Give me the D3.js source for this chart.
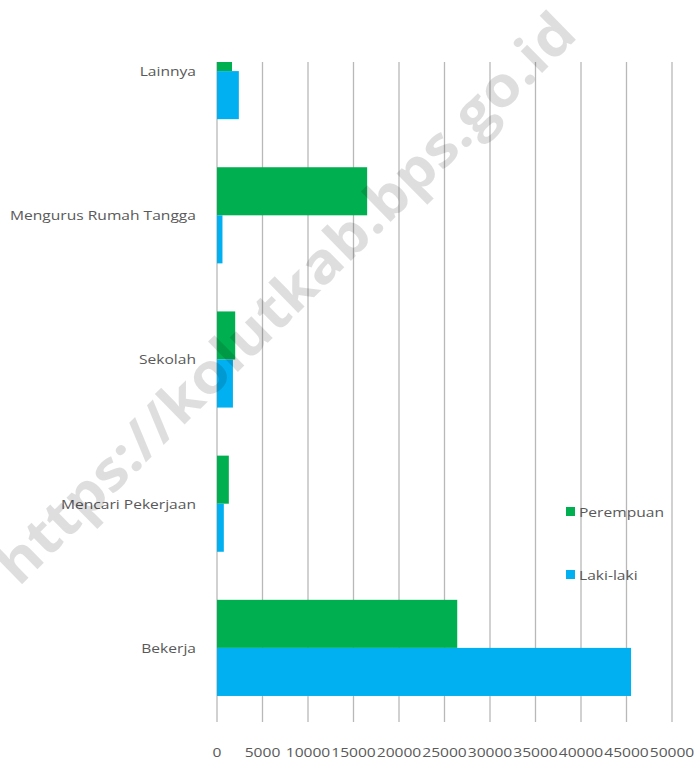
<html>
    <head>
        <style>
body {
    margin: 0;
    background: #fff;
}
.chart text {
    font-family: "Open Sans", sans-serif;
    font-size: 13px;
    fill: #595959;
}
.chart .grid line {
    stroke: #b8b8b8;
    stroke-width: 1.3;
}
.chart .watermark {
    font-family: "Open Sans", sans-serif;
    font-weight: bold;
    font-size: 56px;
    fill: #000;
    fill-opacity: 0.13;
}
        </style>
    </head>
    <body>
<script src="https://d3js.org/d3.v7.min.js"></script>
<script>

const
    width = 697,
    height = 762;

// status kegiatan, top to bottom as in the picture
const categories = ['Lainnya', 'Mengurus Rumah Tangga', 'Sekolah', 'Mencari Pekerjaan', 'Bekerja'];
const perempuan = [1650, 16500, 2000, 1300, 26400];
const lakilaki  = [2400, 600, 1750, 750, 45500];
const xTicks = [0, 5000, 10000, 15000, 20000, 25000, 30000, 35000, 40000, 45000, 50000];
const seriesNames = ['Perempuan', 'Laki-laki'];
const seriesColors = ['#00b050', '#00b0f0'];

// text in the picture is wider than Open Sans, stretch it a bit
const stretch = 1.2;

const
    plotLeft = 217, plotRight = 672,
    plotTop = 62, plotBottom = 722;

var svg = d3.select('body')
    .append('svg')
    .classed('chart', true)
    .attr('width', width)
    .attr('height', height);

const x = d3.scaleLinear()
    .domain([0, 50000])
    .range([plotLeft, plotRight]);

// the chart was cropped at the top, so the bands start above the plot
const y = d3.scaleBand()
    .domain(categories)
    .range([-1, 720])
    .paddingInner(1/3)
    .paddingOuter(1/6);

const sub = d3.scaleBand()
    .domain(seriesNames)
    .range([0, y.bandwidth()]);

svg.append('clipPath')
    .attr('id', 'plotclip')
  .append('rect')
    .attr('x', 0)
    .attr('y', plotTop)
    .attr('width', width)
    .attr('height', plotBottom - plotTop);

// gridlines
svg.append('g')
    .classed('grid', true)
    .selectAll('line')
    .data(xTicks)
  .enter().append('line')
    .attr('x1', d => x(d))
    .attr('x2', d => x(d))
    .attr('y1', plotTop)
    .attr('y2', plotBottom);

const rows = categories.map((c, i) => ({cat: c, values: [perempuan[i], lakilaki[i]]}));

svg.append('g')
    .attr('clip-path', 'url(#plotclip)')
    .selectAll('g')
    .data(rows)
  .enter().append('g')
    .attr('transform', d => 'translate(0,' + y(d.cat) + ')')
    .selectAll('rect')
    .data(d => d.values.map((v, j) => ({v: v, s: seriesNames[j], c: seriesColors[j]})))
  .enter().append('rect')
    .attr('x', x(0))
    .attr('y', d => sub(d.s))
    .attr('width', d => x(d.v) - x(0))
    .attr('height', sub.bandwidth())
    .attr('fill', d => d.c);

// category labels
svg.append('g')
    .selectAll('text')
    .data(categories)
  .enter().append('text')
    .attr('text-anchor', 'end')
    .attr('dominant-baseline', 'central')
    .attr('transform', d => 'translate(196,' + (y(d) + y.bandwidth() / 2) + ') scale(' + stretch + ',1)')
    .text(d => d);

// x tick labels
svg.append('g')
    .selectAll('text')
    .data(xTicks)
  .enter().append('text')
    .attr('text-anchor', 'middle')
    .attr('transform', d => 'translate(' + x(d) + ',757) scale(' + stretch + ',1)')
    .text(d => d);

// legend
const legend = svg.append('g')
    .selectAll('g')
    .data(seriesNames)
  .enter().append('g')
    .attr('transform', (d, i) => 'translate(566,' + (507 + i * 63) + ')');

legend.append('rect')
    .attr('width', 9)
    .attr('height', 9)
    .attr('fill', (d, i) => seriesColors[i]);

legend.append('text')
    .attr('dominant-baseline', 'central')
    .attr('transform', 'translate(13,5) scale(' + stretch + ',1)')
    .text(d => d);

// watermark
svg.append('text')
    .classed('watermark', true)
    .attr('text-anchor', 'middle')
    .attr('transform', 'translate(299,312) rotate(-44.5) scale(1.08,1)')
    .text('https://kolutkab.bps.go.id');

</script>
    </body>
</html>
